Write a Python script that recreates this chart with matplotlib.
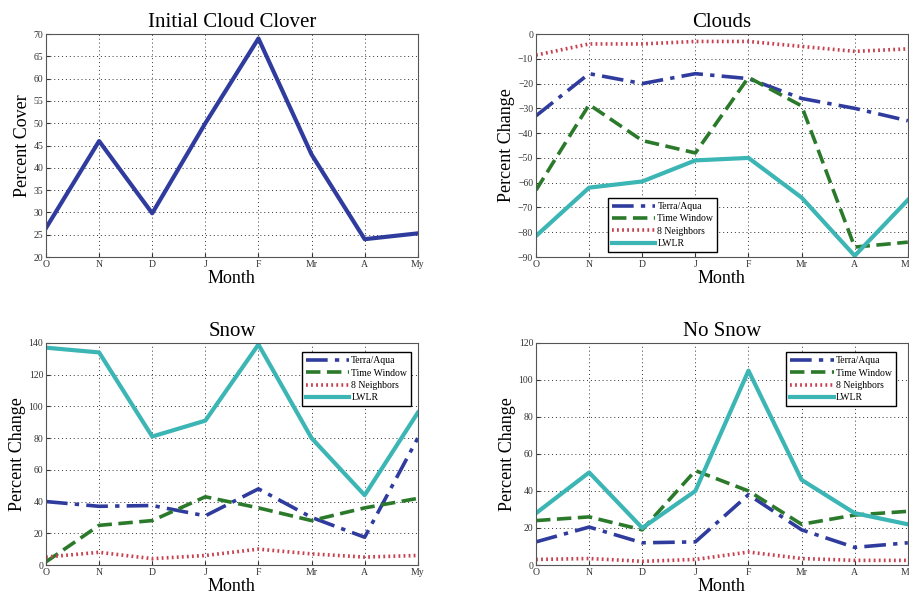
import numpy as np
import matplotlib
matplotlib.use("Agg")
import matplotlib.pyplot as plt

plt.rcParams['font.family'] = ['Liberation Serif', 'DejaVu Serif']

months = ['O', 'N', 'D', 'J', 'F', 'Mr', 'A', 'My']
x = np.arange(len(months))

cover = [26.5, 46, 29.8, 50, 69, 43, 24, 25.3]

# Clouds
cl_terra = [-33, -16, -20, -16, -18, -26, -30, -35]
cl_time = [-63, -28.5, -43, -48, -17.5, -29, -86, -84]
cl_nb = [-8.5, -4, -4, -3, -3, -5, -7, -6]
cl_lwlr = [-81.5, -62, -59.5, -51, -50, -66, -89.5, -67]

# Snow
sn_terra = [40, 37, 37.5, 31, 48, 30, 17.5, 80]
sn_time = [2, 25, 28, 43, 36, 28, 36, 42]
sn_nb = [5, 8, 4, 6, 10, 7, 5, 6]
sn_lwlr = [137, 134, 81, 91, 139, 80, 44, 96]

# No snow
ns_terra = [12.5, 20.5, 12, 12.5, 38, 19, 9.5, 12]
ns_time = [24, 26, 19, 51, 40, 22, 27, 29]
ns_nb = [3, 3.5, 2, 3, 7, 3.5, 2.5, 2.5]
ns_lwlr = [28, 50, 20, 40, 105, 46, 28, 22]

labels = ['Terra/Aqua', 'Time Window', '8 Neighbors', 'LWLR']
c_blue = '#2f3c9e'
c_green = '#2b7a2b'
c_red = '#c8404f'
c_cyan = '#3cb5b5'


def style(ax, title, ylabel, ylim, yticks):
    ax.set_xlim(0, 7)
    ax.set_ylim(*ylim)
    ax.set_xticks(x)
    ax.set_xticklabels(months)
    ax.set_yticks(yticks)
    ax.tick_params(direction='in', labelsize=7, length=3, colors='#333333', pad=2)
    ax.grid(True, linestyle=(0, (1, 3)), color='#333333', linewidth=0.7)
    for s in ax.spines.values():
        s.set_color('#555555')
    ax.set_title(title, fontsize=15, pad=5)
    ax.set_xlabel('Month', fontsize=13, labelpad=1)
    ax.set_ylabel(ylabel, fontsize=13, labelpad=2)


def four(ax, terra, time, nb, lwlr):
    ax.plot(x, terra, color=c_blue, lw=2.6, linestyle=(0, (6, 2, 1.2, 2)), label=labels[0])
    ax.plot(x, time, color=c_green, lw=2.6, linestyle=(0, (4, 1.8)), label=labels[1])
    ax.plot(x, nb, color=c_red, lw=2.6, linestyle=(0, (0.5, 0.9)), label=labels[2])
    ax.plot(x, lwlr, color=c_cyan, lw=3, label=labels[3])


fig = plt.figure(figsize=(9.09, 5.97), dpi=100)
w, h = 0.409, 0.3735
ax1 = fig.add_axes([0.0506, 0.5695, w, h])
ax2 = fig.add_axes([0.5897, 0.5695, w, h])
ax3 = fig.add_axes([0.0506, 0.0536, w, 0.372])
ax4 = fig.add_axes([0.5897, 0.0536, w, 0.372])

ax1.plot(x, cover, color=c_blue, lw=3)
style(ax1, 'Initial Cloud Clover', 'Percent Cover', (20, 70), np.arange(20, 71, 5))

four(ax2, cl_terra, cl_time, cl_nb, cl_lwlr)
style(ax2, 'Clouds', 'Percent Change', (-90, 0), np.arange(-90, 1, 10))
ax2.legend(loc='lower left', bbox_to_anchor=(0.18, 0.0), fontsize=7, fancybox=False,
           edgecolor='black', framealpha=1, handlelength=4.5, borderpad=0.4,
           labelspacing=0.35, handletextpad=0.2)

four(ax3, sn_terra, sn_time, sn_nb, sn_lwlr)
style(ax3, 'Snow', 'Percent Change', (0, 140), np.arange(0, 141, 20))
ax3.legend(loc='upper right', bbox_to_anchor=(0.995, 0.98), fontsize=7, fancybox=False,
           edgecolor='black', framealpha=1, handlelength=4.5, borderpad=0.4,
           labelspacing=0.35, handletextpad=0.2)

four(ax4, ns_terra, ns_time, ns_nb, ns_lwlr)
style(ax4, 'No Snow', 'Percent Change', (0, 120), np.arange(0, 121, 20))
ax4.legend(loc='upper right', bbox_to_anchor=(0.98, 0.98), fontsize=7, fancybox=False,
           edgecolor='black', framealpha=1, handlelength=4.5, borderpad=0.4,
           labelspacing=0.35, handletextpad=0.2)

fig.savefig('out.png', dpi=100)
